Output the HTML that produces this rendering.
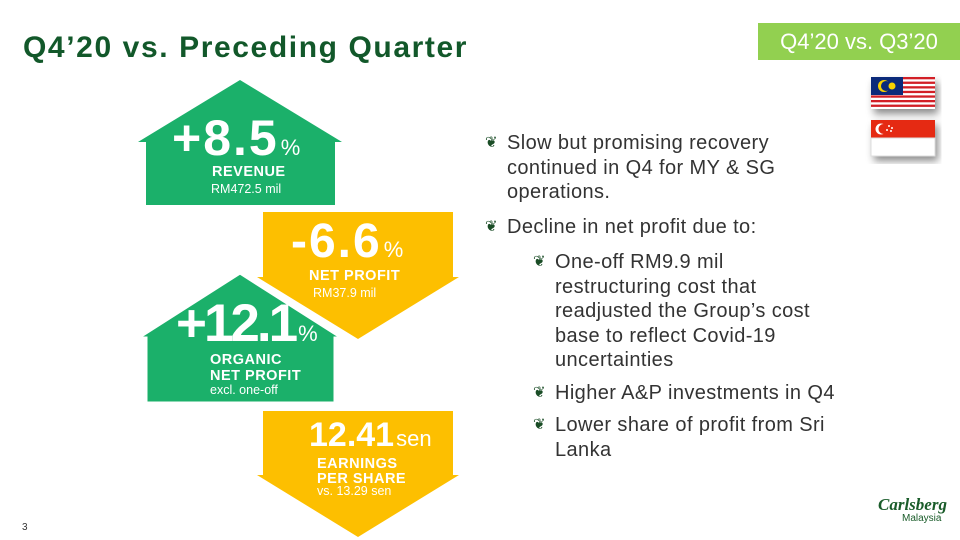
<!DOCTYPE html>
<html><head><meta charset="utf-8"><style>
body{margin:0;width:960px;height:540px;background:#fff;position:relative;overflow:hidden;font-family:"Liberation Sans",sans-serif}
.a{position:absolute;white-space:nowrap}
.title{left:23px;top:31px;font-size:30px;font-weight:bold;color:#12582a;letter-spacing:1.6px}
.tag{left:758px;top:23px;width:202px;height:37px;background:#92d050;color:#fff;font-size:22px;line-height:37px;text-align:center}
.txt{font-size:20px;color:#333;line-height:24.5px;letter-spacing:0.4px}
.ic{color:#1a4d26;font-size:15px}
.w{color:#fff;line-height:1}
.big{font-weight:bold;font-size:50px}
.pc{font-size:22px;font-weight:normal;letter-spacing:0}
.lbl{font-weight:bold;font-size:14.5px;line-height:15px;letter-spacing:0.5px}
.sm{font-size:12.5px}
</style></head><body>
<div class="a title">Q4’20 vs. Preceding Quarter</div>
<div class="a tag">Q4’20 vs. Q3’20</div>
<svg class="a" style="left:0;top:0" width="960" height="540">
<defs><filter id="sh"><feDropShadow dx="3" dy="5" stdDeviation="4" flood-opacity="0.45"/></filter></defs>
<polygon points="240,80 342,142 335,142 335,205 146,205 146,142 138,142" fill="#1bb06a"/>
<polygon points="263,212 453,212 453,277 459,277 358,339 257,277 263,277" fill="#fdbf00"/>
<polygon points="240,273 342,338 335,338 335,403 146,403 146,338 138,338" fill="#1bb06a" stroke="#fff" stroke-width="3"/>
<polygon points="263,411 453,411 453,475 459,475 358,537 257,475 263,475" fill="#fdbf00"/>
<g filter="url(#sh)">
<rect x="871" y="77" width="64" height="32" fill="#fff"/>
<rect x="871" y="120" width="64" height="36" fill="#fff"/>
</g>
<g>
<rect x="871" y="77" width="64" height="32" fill="#fff"/>
<rect x="871" y="77" width="64" height="2.3" fill="#d21f26"/>
<rect x="871" y="81.6" width="64" height="2.3" fill="#d21f26"/>
<rect x="871" y="86.2" width="64" height="2.3" fill="#d21f26"/>
<rect x="871" y="90.8" width="64" height="2.3" fill="#d21f26"/>
<rect x="871" y="95.4" width="64" height="2.3" fill="#d21f26"/>
<rect x="871" y="100" width="64" height="2.3" fill="#d21f26"/>
<rect x="871" y="104.6" width="64" height="2.3" fill="#d21f26"/>
<rect x="871" y="77" width="32" height="18" fill="#0b2a7a"/>
<circle cx="884" cy="86" r="6" fill="#f8d200"/><circle cx="886" cy="86" r="5" fill="#0b2a7a"/>
<circle cx="892" cy="86" r="3.5" fill="#f8d200"/>
<rect x="871" y="120" width="64" height="18" fill="#e52a13"/>
<rect x="871" y="138" width="64" height="18" fill="#fff" stroke="#ddd"/>
<circle cx="881" cy="129" r="5.5" fill="#fff"/><circle cx="883.5" cy="129" r="5" fill="#e52a13"/>
<circle cx="889" cy="126" r="1" fill="#fff"/><circle cx="892" cy="128" r="1" fill="#fff"/><circle cx="887" cy="130" r="1" fill="#fff"/><circle cx="891" cy="131" r="1" fill="#fff"/>
</g>
</svg>
<div class="a w big" style="left:172px;top:113px;letter-spacing:2px">+8.5<span class="pc" style="margin-left:2px">%</span></div>
<div class="a w lbl" style="left:212px;top:165px">REVENUE</div>
<div class="a w sm" style="left:211px;top:183px">RM472.5 mil</div>
<div class="a w big" style="left:291px;top:218px;font-size:48px;letter-spacing:2px">-6.6<span class="pc" style="margin-left:2px">%</span></div>
<div class="a w lbl" style="left:309px;top:269px">NET PROFIT</div>
<div class="a w sm" style="left:313px;top:287px">RM37.9 mil</div>
<div class="a w big" style="left:176px;top:297px;font-size:53px;letter-spacing:-3px">+12.1<span class="pc" style="margin-left:3px">%</span></div>
<div class="a w lbl" style="left:210px;top:353px;line-height:15.5px">ORGANIC<br>NET PROFIT</div>
<div class="a w sm" style="left:210px;top:384px">excl. one-off</div>
<div class="a w big" style="left:309px;top:418px;font-size:34px;letter-spacing:0px">12.41<span class="pc" style="margin-left:2px">sen</span></div>
<div class="a w lbl" style="left:317px;top:457px;line-height:14.5px">EARNINGS<br>PER SHARE</div>
<div class="a w sm" style="left:317px;top:485px">vs. 13.29 sen</div>
<div class="a ic" style="left:485px;top:133px">❦</div>
<div class="a txt" style="left:507px;top:131px">Slow but promising recovery<br>continued in Q4 for MY &amp; SG<br>operations.</div>
<div class="a ic" style="left:485px;top:217px">❦</div>
<div class="a txt" style="left:507px;top:215px">Decline in net profit due to:</div>
<div class="a ic" style="left:533px;top:252px">❦</div>
<div class="a txt" style="left:555px;top:250px">One-off RM9.9 mil<br>restructuring cost that<br>readjusted the Group’s cost<br>base to reflect Covid-19<br>uncertainties</div>
<div class="a ic" style="left:533px;top:383px">❦</div>
<div class="a txt" style="left:555px;top:381px">Higher A&amp;P investments in Q4</div>
<div class="a ic" style="left:533px;top:415px">❦</div>
<div class="a txt" style="left:555px;top:413px">Lower share of profit from Sri<br>Lanka</div>
<div class="a" style="left:22px;top:522px;font-size:10px;color:#333">3</div>
<div class="a" style="left:878px;top:495px;font-family:'Liberation Serif',serif;font-style:italic;font-weight:bold;font-size:17px;color:#1a5c2a">Carlsberg</div>
<div class="a" style="left:902px;top:513px;font-size:10px;color:#1a5c2a">Malaysia</div>
</body></html>
